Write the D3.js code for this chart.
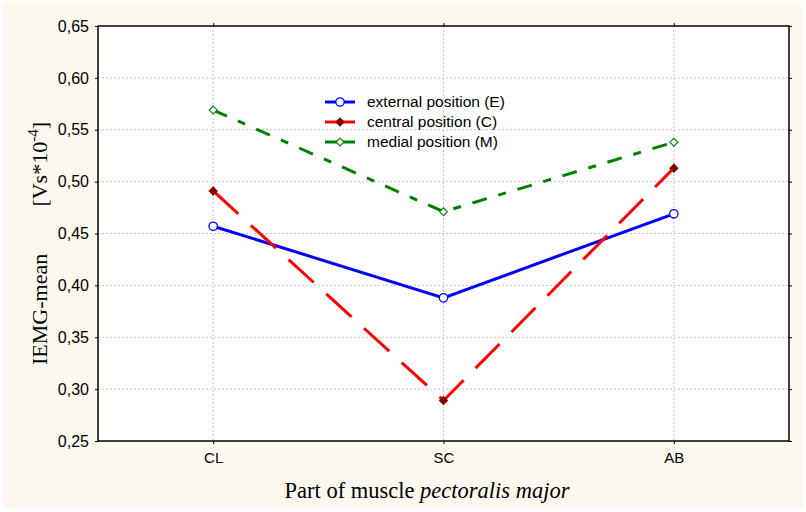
<!DOCTYPE html>
<html>
<head>
<meta charset="utf-8">
<script src="https://d3js.org/d3.v7.min.js"></script>
<style>
body{margin:0;background:#fff;}
</style>
</head>
<body>
<svg id="chart" width="806" height="512"></svg>
<script>
// data
var categories = ["CL", "SC", "AB"];
var externalVals = [0.457, 0.388, 0.469];
var centralVals = [0.491, 0.289, 0.513];
var medialVals = [0.569, 0.471, 0.538];
var yTicks = [0.25, 0.30, 0.35, 0.40, 0.45, 0.50, 0.55, 0.60, 0.65];
var legendLabels = ["external position (E)", "central position (C)", "medial position (M)"];

var svg = d3.select("#chart");
var margin = {left: 98, top: 26, right: 789, bottom: 441};

svg.append("rect").attr("x", 3).attr("y", 3).attr("width", 800).attr("height", 505)
	.attr("fill", "#fdf9ee");
svg.append("rect").attr("x", margin.left).attr("y", margin.top)
	.attr("width", margin.right - margin.left).attr("height", margin.bottom - margin.top)
	.attr("fill", "#fff");

var x = d3.scalePoint().domain(categories).range([margin.left, margin.right]).padding(0.5);
var y = d3.scaleLinear().domain([0.25, 0.65]).range([margin.bottom, margin.top]);

// grid
var grid = svg.append("g").attr("stroke", "#c4c4c4").attr("stroke-width", 1).attr("stroke-dasharray", "2,2");
grid.selectAll(".gy").data(yTicks.slice(1, -1)).enter().append("line")
	.attr("x1", margin.left).attr("x2", margin.right)
	.attr("y1", function(d){ return y(d); }).attr("y2", function(d){ return y(d); });
grid.selectAll(".gx").data(categories).enter().append("line")
	.attr("y1", margin.top).attr("y2", margin.bottom)
	.attr("x1", function(d){ return x(d); }).attr("x2", function(d){ return x(d); });

// axes
var fmt = function(d){ return d3.format(".2f")(d).replace(".", ","); };
var yAxis = svg.append("g").attr("transform", "translate(" + margin.left + ",0)")
	.call(d3.axisLeft(y).tickValues(yTicks).tickFormat(fmt).tickSize(3).tickPadding(6));
var yAxisR = svg.append("g").attr("transform", "translate(" + margin.right + ",0)")
	.call(d3.axisRight(y).tickValues(yTicks).tickFormat("").tickSize(3));
var xAxis = svg.append("g").attr("transform", "translate(0," + margin.bottom + ")")
	.call(d3.axisBottom(x).tickSize(3).tickPadding(8));
var xAxisT = svg.append("g").attr("transform", "translate(0," + margin.top + ")")
	.call(d3.axisTop(x).tickSize(3).tickFormat(""));
[yAxis, yAxisR, xAxis, xAxisT].forEach(function(a){
	a.select(".domain").remove();
	a.selectAll("line").attr("stroke", "#000");
	a.selectAll("text").attr("font-family", "Arial, 'Liberation Sans', sans-serif")
		.attr("font-size", 16).attr("fill", "#000");
});
xAxis.selectAll("text").attr("font-size", 15);

svg.append("rect").attr("x", margin.left).attr("y", margin.top)
	.attr("width", margin.right - margin.left).attr("height", margin.bottom - margin.top)
	.attr("fill", "none").attr("stroke", "#000").attr("stroke-width", 1.5);

// series
var series = [
	{vals: externalVals, color: "#0000ff", dash: null, marker: "circle", fill: "#fff"},
	{vals: centralVals, color: "#ff0000", dash: "34,17", marker: "diamond", fill: "#800000"},
	{vals: medialVals, color: "#008000", dash: "15,12,8,12", marker: "diamond", fill: "#fff"}
];

var line = d3.line().x(function(d, i){ return x(categories[i]); }).y(function(d){ return y(d); });

function drawMarker(g, s, cx, cy){
	if(s.marker == "circle"){
		g.append("circle").attr("cx", cx).attr("cy", cy).attr("r", 4.2)
			.attr("fill", s.fill).attr("stroke", s.color).attr("stroke-width", 1.3);
	}else{
		var stroke = s.fill == "#fff" ? s.color : s.fill;
		g.append("path").attr("d", d3.symbol().type(d3.symbolDiamond2).size(40)())
			.attr("transform", "translate(" + cx + "," + cy + ")")
			.attr("fill", s.fill).attr("stroke", stroke).attr("stroke-width", 1.1);
	}
}

series.forEach(function(s){
	svg.append("path").datum(s.vals).attr("d", line)
		.attr("fill", "none").attr("stroke", s.color).attr("stroke-width", 3)
		.attr("stroke-dasharray", s.dash);
});
series.forEach(function(s){
	var g = svg.append("g");
	s.vals.forEach(function(v, i){ drawMarker(g, s, x(categories[i]), y(v)); });
});

// legend
var legend = svg.append("g");
series.forEach(function(s, i){
	var ly = 102 + i * 20;
	legend.append("line").attr("x1", 325).attr("x2", 355).attr("y1", ly).attr("y2", ly)
		.attr("stroke", s.color).attr("stroke-width", 3);
	drawMarker(legend, s, 340, ly);
	legend.append("text").attr("x", 367).attr("y", ly + 5).text(legendLabels[i])
		.attr("font-family", "Arial, 'Liberation Sans', sans-serif").attr("font-size", 15.5).attr("fill", "#000");
});

// titles
var serif = "'Times New Roman', 'Liberation Serif', serif";
svg.append("text")
	.attr("transform", "translate(47,365) rotate(-90)")
	.attr("text-anchor", "start")
	.attr("font-family", serif).attr("font-size", 22).attr("fill", "#000")
	.text("IEMG-mean");
var unit = svg.append("text")
	.attr("transform", "translate(47,122) rotate(-90)")
	.attr("text-anchor", "end")
	.attr("font-family", serif).attr("font-size", 22).attr("fill", "#000");
unit.append("tspan").text("[Vs*10");
unit.append("tspan").attr("dy", -9).attr("font-size", 15).text("-4");
unit.append("tspan").attr("dy", 9).text("]");

var xTitle = svg.append("text").attr("x", 427).attr("y", 498).attr("text-anchor", "middle")
	.attr("font-family", serif).attr("font-size", 22.5).attr("fill", "#000");
xTitle.append("tspan").text("Part of muscle ");
xTitle.append("tspan").attr("font-style", "italic").text("pectoralis major");
</script>
</body>
</html>
